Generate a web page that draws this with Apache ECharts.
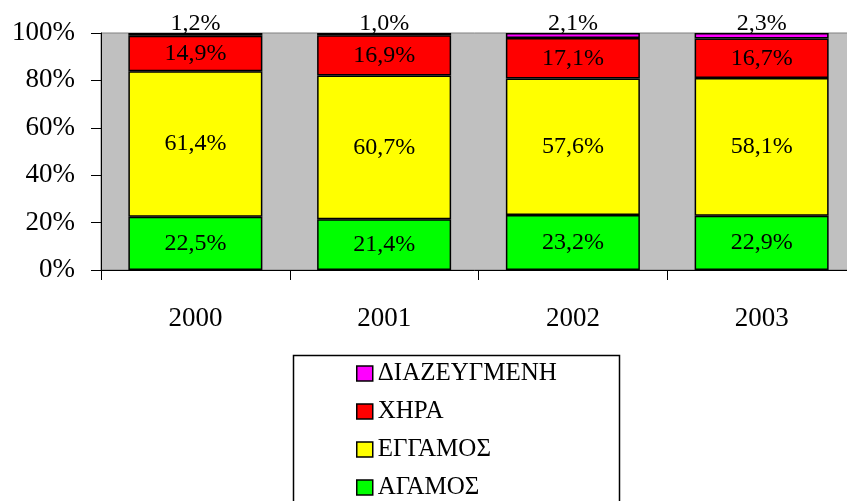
<!DOCTYPE html>
<html>
<head>
<meta charset="utf-8">
<script src="https://cdn.jsdelivr.net/npm/echarts@6/dist/echarts.min.js"></script>
<style>
  html, body { margin: 0; padding: 0; background: #fff; }
  #chart { width: 847px; height: 501px; }
</style>
</head>
<body>
<div id="chart"></div>
<script>
// χρονιές και ποσοστά ανά οικογενειακή κατάσταση
const years = ['2000', '2001', '2002', '2003'];
const agamos = [22.5, 21.4, 23.2, 22.9];
const eggamos = [61.4, 60.7, 57.6, 58.1];
const xhra = [14.9, 16.9, 17.1, 16.7];
const diazeygmenh = [1.2, 1.0, 2.1, 2.3];
const yTicks = [0, 20, 40, 60, 80, 100];

const FONT = "'Liberation Serif', 'Times New Roman', serif";

const fmt = (p) => p.value.toFixed(1).replace('.', ',') + '%';

const makeSeries = (name, data, color, pos) => ({
  type: 'bar',
  name: name,
  stack: 'total',
  data: data,
  barWidth: '71%',
  itemStyle: { color: color, borderColor: '#000', borderWidth: 1.5 },
  label: {
    show: true,
    position: pos,
    distance: pos === 'top' ? -3 : 0,
    formatter: fmt,
    color: '#000',
    fontFamily: FONT,
    fontSize: 24
  }
});

const chart = echarts.init(document.getElementById('chart'));
chart.setOption({
  animation: false,
  backgroundColor: '#fff',
  grid: {
    left: 101,
    top: 33,
    width: 755,
    height: 237,
    containLabel: false,
    outerBoundsMode: 'none',
    show: true,
    backgroundColor: '#c0c0c0',
    borderColor: '#808080',
    borderWidth: 1
  },
  // рамка легенды уходит за нижний край
  graphic: [{
    type: 'rect',
    left: 291,
    top: 353,
    shape: { width: 326, height: 200 },
    style: { fill: 'none', stroke: '#000', lineWidth: 1.5 },
    z: 1
  }],
  xAxis: {
    type: 'category',
    data: years,
    axisLine: { lineStyle: { color: '#000', width: 1 } },
    axisTick: { show: true, length: 10, lineStyle: { color: '#000' } },
    axisLabel: { color: '#000', fontFamily: FONT, fontSize: 27, margin: 35 }
  },
  yAxis: {
    type: 'value',
    min: yTicks[0],
    max: yTicks[yTicks.length - 1],
    interval: 20,
    axisLine: { show: true, lineStyle: { color: '#000', width: 1 } },
    axisTick: { show: true, length: 10, lineStyle: { color: '#000' } },
    splitLine: { show: false },
    axisLabel: {
      color: '#000',
      fontFamily: FONT,
      fontSize: 27,
      margin: 26,
      formatter: (v) => v + '%'
    }
  },
  legend: {
    orient: 'vertical',
    left: 356,
    top: 361,
    padding: 0,
    itemWidth: 16,
    itemHeight: 15,
    itemGap: 13,
    icon: 'rect',
    data: ['ΔΙΑΖΕΥΓΜΕΝΗ', 'ΧΗΡΑ', 'ΕΓΓΑΜΟΣ', 'ΑΓΑΜΟΣ'],
    itemStyle: { borderColor: '#000', borderWidth: 1.5 },
    textStyle: { color: '#000', fontFamily: FONT, fontSize: 25, lineHeight: 25 }
  },
  series: [
    makeSeries('ΑΓΑΜΟΣ', agamos, '#00ff00', 'inside'),
    makeSeries('ΕΓΓΑΜΟΣ', eggamos, '#ffff00', 'inside'),
    makeSeries('ΧΗΡΑ', xhra, '#ff0000', 'inside'),
    makeSeries('ΔΙΑΖΕΥΓΜΕΝΗ', diazeygmenh, '#ff00ff', 'top')
  ]
});
</script>
</body>
</html>
